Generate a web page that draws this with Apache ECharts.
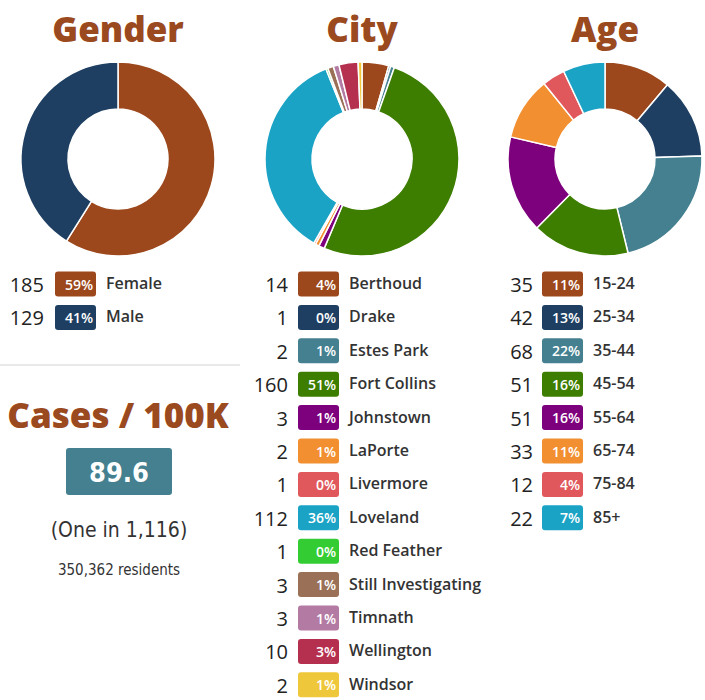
<!DOCTYPE html>
<html><head><meta charset="utf-8">
<script src="https://cdn.jsdelivr.net/npm/echarts/dist/echarts.min.js"></script>
<style>html,body{margin:0;padding:0;background:#fff}#c{width:705px;height:700px}</style>
</head><body><div id="c"></div>
<script>
// ---- data ----
const genderNames = ['Female', 'Male'];
const genderValues = [185, 129];
const genderColors = ['#9c481c', '#1e3f62'];

const cityNames = ['Berthoud', 'Drake', 'Estes Park', 'Fort Collins', 'Johnstown', 'LaPorte', 'Livermore',
  'Loveland', 'Red Feather', 'Still Investigating', 'Timnath', 'Wellington', 'Windsor'];
const cityValues = [14, 1, 2, 160, 3, 2, 1, 112, 1, 3, 3, 10, 2];
const cityColors = ['#9c481c', '#1e3f62', '#44808f', '#3d7d00', '#7d007d', '#f28f30', '#e0575c',
  '#1ba3c6', '#33cc33', '#9a7157', '#b37ba3', '#b5304f', '#efc73a'];

const ageNames = ['15-24', '25-34', '35-44', '45-54', '55-64', '65-74', '75-84', '85+'];
const ageValues = [35, 42, 68, 51, 51, 33, 12, 22];
const ageColors = ['#9c481c', '#1e3f62', '#44808f', '#3d7d00', '#7d007d', '#f28f30', '#e0575c', '#1ba3c6'];

const chartTitles = ['Gender', 'City', 'Age'];
const casesTitle = 'Cases / 100K';
const casesPer100k = '89.6';
const oneInText = '(One in 1,116)';
const residentsText = '350,362 residents';

// ---- layout ----
const TITLE_COLOR = '#9a4a1e';
const groups = [
  { names: genderNames, values: genderValues, colors: genderColors, cx: 118, numRight: 44, badgeX: 55, labelX: 106 },
  { names: cityNames, values: cityValues, colors: cityColors, cx: 362, numRight: 288, badgeX: 298, labelX: 349 },
  { names: ageNames, values: ageValues, colors: ageColors, cx: 605, numRight: 533, badgeX: 542, labelX: 593 }
];
const PIE_CY = 159, R_IN = 50, R_OUT = 97;
const ROW0 = 284, ROW_H = 33.4, BADGE_W = 41, BADGE_H = 25;

const series = [];
const graphics = [];
groups.forEach((g, gi) => {
  const total = g.values.reduce((a, b) => a + b, 0);
  series.push({
    type: 'pie',
    center: [g.cx, PIE_CY],
    radius: [R_IN, R_OUT],
    startAngle: 90,
    clockwise: true,
    silent: true,
    label: { show: false },
    labelLine: { show: false },
    itemStyle: { borderColor: '#fff', borderWidth: 1.5 },
    data: g.names.map((n, i) => ({ name: n, value: g.values[i], itemStyle: { color: g.colors[i] } }))
  });
  graphics.push({
    type: 'text', x: g.cx, y: 28,
    style: { text: chartTitles[gi], fill: TITLE_COLOR, font: '800 35px "Open Sans", sans-serif',
      textAlign: 'center', textVerticalAlign: 'middle' }
  });
  g.names.forEach((n, i) => {
    const y = ROW0 + i * ROW_H;
    const pct = Math.round(g.values[i] / total * 100) + '%';
    graphics.push({
      type: 'text', x: g.numRight, y: y + 0.5,
      style: { text: String(g.values[i]), fill: '#222', font: '400 20px "Open Sans", sans-serif',
        textAlign: 'right', textVerticalAlign: 'middle' }
    });
    graphics.push({
      type: 'rect', shape: { x: g.badgeX, y: y - BADGE_H / 2, width: BADGE_W, height: BADGE_H, r: 3 },
      style: { fill: g.colors[i] }
    });
    graphics.push({
      type: 'text', x: g.badgeX + BADGE_W - 3, y: y,
      style: { text: pct, fill: '#fff', font: '600 14px "Open Sans", sans-serif',
        textAlign: 'right', textVerticalAlign: 'middle' }
    });
    graphics.push({
      type: 'text', x: g.labelX, y: y - 1,
      style: { text: n, fill: '#333', font: '600 16px "Open Sans", sans-serif',
        textAlign: 'left', textVerticalAlign: 'middle' }
    });
  });
});

// cases block
graphics.push({ type: 'line', shape: { x1: 0, y1: 365, x2: 240, y2: 365 }, style: { stroke: '#e2e2e2', lineWidth: 1.5 } });
graphics.push({ type: 'text', x: 118, y: 414,
  style: { text: casesTitle, fill: TITLE_COLOR, font: '800 35px "Open Sans", sans-serif', textAlign: 'center', textVerticalAlign: 'middle' } });
graphics.push({ type: 'rect', shape: { x: 66, y: 448, width: 106, height: 47, r: 3 }, style: { fill: '#44808f' } });
graphics.push({ type: 'text', x: 119, y: 472,
  style: { text: casesPer100k, fill: '#fff', font: '700 27px "Liberation Sans Narrow", "DejaVu Sans Condensed", sans-serif', textAlign: 'center', textVerticalAlign: 'middle' } });
graphics.push({ type: 'text', x: 119, y: 530,
  style: { text: oneInText, fill: '#333', font: '400 21px "Liberation Sans Narrow", "DejaVu Sans Condensed", sans-serif', textAlign: 'center', textVerticalAlign: 'middle' } });
graphics.push({ type: 'text', x: 119, y: 570,
  style: { text: residentsText, fill: '#333', font: '400 15px "Liberation Sans Narrow", "DejaVu Sans Condensed", sans-serif', textAlign: 'center', textVerticalAlign: 'middle' } });

const chart = echarts.init(document.getElementById('c'), null, { renderer: 'svg' });
chart.setOption({
  animation: false,
  backgroundColor: '#fff',
  series: series,
  graphic: { elements: graphics }
});
</script>
</body></html>
